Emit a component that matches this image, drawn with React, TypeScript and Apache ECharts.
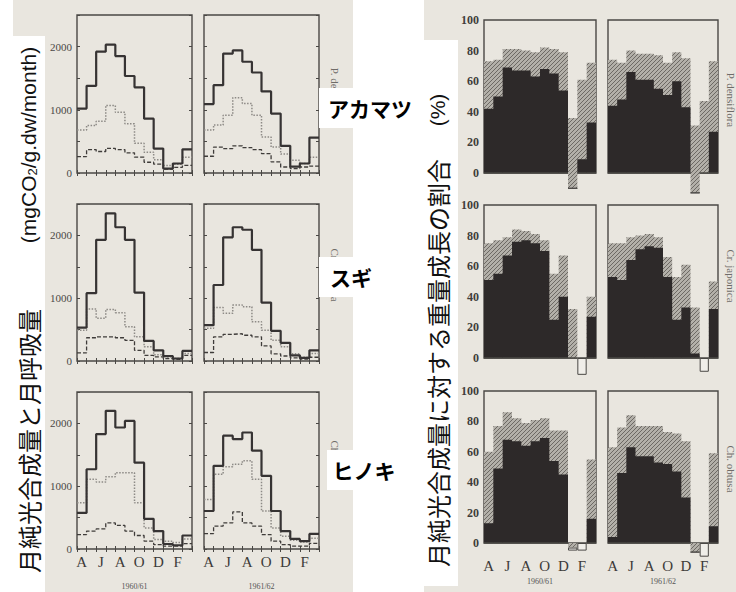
import React, { useEffect, useRef } from 'react';
import * as echarts from 'echarts';

// ---------- categories / labels ----------
const months = ['A', 'M', 'J', 'J', 'A', 'S', 'O', 'N', 'D', 'J', 'F', 'M'];
const seasons = ['1960/61', '1961/62'];
const speciesLatin = ['P. densiflora', 'Cr. japonica', 'Ch. obtusa'];
const speciesJa = ['アカマツ', 'スギ', 'ヒノキ'];

// ---------- left panel: monthly amounts (mgCO2/g.dw/month) ----------
const pdSolid6061 = [1020, 1380, 1920, 2030, 1850, 1535, 1355, 860, 386, 70, 150, 375];
const pdDotted6061 = [680, 750, 820, 1070, 960, 780, 470, 330, 210, 120, 140, 250];
const pdDashed6061 = [260, 370, 340, 390, 370, 320, 250, 170, 140, 60, 90, 120];
const pdSolid6162 = [1090, 1390, 1890, 1940, 1760, 1590, 1290, 940, 430, 100, 150, 560];
const pdDotted6162 = [680, 760, 915, 1190, 1100, 915, 570, 410, 300, 200, 150, 250];
const pdDashed6162 = [265, 410, 385, 430, 400, 370, 305, 175, 95, 70, 95, 110];

const cjSolid6061 = [530, 1080, 1930, 2350, 2130, 1930, 1090, 320, 170, 80, 40, 160];
const cjDotted6061 = [490, 830, 680, 820, 770, 545, 385, 225, 100, 65, 40, 120];
const cjDashed6061 = [130, 370, 385, 385, 370, 330, 170, 90, 65, 40, 25, 90];
const cjSolid6162 = [570, 1210, 1970, 2130, 2090, 1770, 930, 480, 290, 90, 50, 170];
const cjDotted6162 = [520, 850, 760, 890, 865, 625, 490, 330, 225, 115, 60, 120];
const cjDashed6162 = [135, 385, 425, 435, 410, 385, 240, 115, 80, 50, 30, 60];

const coSolid6061 = [575, 1270, 1830, 2200, 1935, 2040, 1375, 480, 285, 80, 60, 215];
const coDotted6061 = [735, 1110, 1065, 1150, 1215, 1215, 735, 335, 150, 125, 105, 160];
const coDashed6061 = [230, 285, 320, 415, 375, 285, 215, 125, 70, 45, 45, 85];
const coSolid6162 = [605, 1325, 1805, 1750, 1855, 1565, 1165, 605, 285, 160, 125, 240];
const coDotted6162 = [790, 1190, 1310, 1350, 1405, 1110, 605, 335, 205, 140, 110, 170];
const coDashed6162 = [245, 365, 415, 590, 415, 365, 230, 125, 70, 45, 45, 90];

// ---------- right panel: ratio of weight growth to net photosynthesis (%) ----------
const pdBlack6061 = [42, 50, 69, 67, 67, 63, 68, 65, 54, 0, 9, 33];
const pdTop6061 = [73, 74, 81, 81, 80, 79, 82, 81, 79, 36, 61, 72];
const pdNegHatch6061 = [0, 0, 0, 0, 0, 0, 0, 0, 0, -10, 0, 0];
const pdNegOpen6061 = [0, 0, 0, 0, 0, 0, 0, 0, 0, 0, 0, 0];
const pdBlack6162 = [44, 48, 66, 61, 61, 55, 51, 60, 43, 0, 0, 27];
const pdTop6162 = [74, 72, 80, 78, 78, 77, 72, 79, 75, 31, 47, 73];
const pdNegHatch6162 = [0, 0, 0, 0, 0, 0, 0, 0, 0, -13, 0, 0];
const pdNegOpen6162 = [0, 0, 0, 0, 0, 0, 0, 0, 0, 0, 0, 0];

const cjBlack6061 = [51, 55, 67, 76, 77, 75, 70, 25, 40, 0, 0, 27];
const cjTop6061 = [75, 77, 79, 84, 83, 81, 77, 55, 67, 32, 0, 40];
const cjNegHatch6061 = [0, 0, 0, 0, 0, 0, 0, 0, 0, 0, 0, 0];
const cjNegOpen6061 = [0, 0, 0, 0, 0, 0, 0, 0, 0, 0, -11, 0];
const cjBlack6162 = [53, 51, 64, 71, 73, 72, 53, 25, 33, 3, 0, 32];
const cjTop6162 = [75, 75, 79, 80, 81, 79, 66, 53, 61, 33, 0, 50];
const cjNegHatch6162 = [0, 0, 0, 0, 0, 0, 0, 0, 0, 0, 0, 0];
const cjNegOpen6162 = [0, 0, 0, 0, 0, 0, 0, 0, 0, 0, -9, 0];

const coBlack6061 = [13, 49, 68, 67, 64, 67, 69, 54, 45, 0, 0, 16];
const coTop6061 = [60, 77, 86, 82, 79, 81, 82, 74, 74, 0, 0, 55];
const coNegHatch6061 = [0, 0, 0, 0, 0, 0, 0, 0, 0, -3, 0, 0];
const coNegOpen6061 = [0, 0, 0, 0, 0, 0, 0, 0, 0, -2, -5, 0];
const coBlack6162 = [4, 46, 63, 57, 57, 53, 52, 47, 30, 0, 0, 11];
const coTop6162 = [63, 76, 84, 77, 77, 77, 73, 72, 67, 0, 0, 59];
const coNegHatch6162 = [0, 0, 0, 0, 0, 0, 0, 0, 0, -6, 0, 0];
const coNegOpen6162 = [0, 0, 0, 0, 0, 0, 0, 0, 0, 0, -9, 0];

const leftData = [
  [
    [pdSolid6061, pdDotted6061, pdDashed6061],
    [pdSolid6162, pdDotted6162, pdDashed6162],
  ],
  [
    [cjSolid6061, cjDotted6061, cjDashed6061],
    [cjSolid6162, cjDotted6162, cjDashed6162],
  ],
  [
    [coSolid6061, coDotted6061, coDashed6061],
    [coSolid6162, coDotted6162, coDashed6162],
  ],
];

const rightData = [
  [
    [pdBlack6061, pdTop6061, pdNegHatch6061, pdNegOpen6061],
    [pdBlack6162, pdTop6162, pdNegHatch6162, pdNegOpen6162],
  ],
  [
    [cjBlack6061, cjTop6061, cjNegHatch6061, cjNegOpen6061],
    [cjBlack6162, cjTop6162, cjNegHatch6162, cjNegOpen6162],
  ],
  [
    [coBlack6061, coTop6061, coNegHatch6061, coNegOpen6061],
    [coBlack6162, coTop6162, coNegHatch6162, coNegOpen6162],
  ],
];

// ---------- layout / style ----------
const L_COL_X = [77, 204];
const L_W = 115;
const L_ROW_TOP = [15, 204, 392];
const L_ROW_H = [158, 157, 157];
const R_COL_X = [484, 608];
const R_W = [112, 110];
const R_ROW_TOP = [20, 205, 391];
const R_ROW_H = [153, 153, 152];

const PAPER = '#e9e6df';
const FRAME = '#4a4845';
const BLACK = '#2d2929';
const SERIF = '"Liberation Serif", "DejaVu Serif", serif';
const JA = '"Noto Sans CJK JP", "Noto Sans", sans-serif';
const SANS = '"Liberation Sans", Arial, sans-serif';

function makeHatch() {
  const c = document.createElement('canvas');
  c.width = 4;
  c.height = 4;
  const ctx = c.getContext('2d')!;
  ctx.fillStyle = '#b3b0a9';
  ctx.fillRect(0, 0, 4, 4);
  ctx.strokeStyle = '#65615c';
  ctx.lineWidth = 0.9;
  ctx.beginPath();
  ctx.moveTo(0, 4);
  ctx.lineTo(4, 0);
  ctx.moveTo(-1, 1);
  ctx.lineTo(1, -1);
  ctx.moveTo(3, 5);
  ctx.lineTo(5, 3);
  ctx.stroke();
  return { image: c, repeat: 'repeat' };
}

// monthly values -> step points over bins [i, i+1]
function stepPoints(vals: number[]) {
  return vals.map((v, i) => [i, v]).concat([[vals.length, vals[vals.length - 1]]]);
}

function buildOption() {
  const hatch = makeHatch();
  const grid: any[] = [];
  const xAxis: any[] = [];
  const yAxis: any[] = [];
  const series: any[] = [];

  const lineStyles = [
    { color: '#363333', width: 2.2, type: 'solid' },
    { color: '#8d8a86', width: 1.5, type: [1.5, 1.5] },
    { color: '#3f3c3a', width: 1.3, type: [4, 2] },
  ];

  // left panel
  for (let r = 0; r < 3; r++) {
    for (let c = 0; c < 2; c++) {
      const gi = grid.length;
      const bottomRow = r === 2;
      grid.push({
        left: L_COL_X[c], top: L_ROW_TOP[r], width: L_W, height: L_ROW_H[r],
        show: true, borderColor: FRAME, borderWidth: 1.4, backgroundColor: 'transparent',
      });
      xAxis.push({
        type: 'category', gridIndex: gi, data: months, position: 'bottom', boundaryGap: true,
        axisLine: { show: false },
        axisTick: { show: true, inside: true, interval: 0, length: 3, lineStyle: { color: FRAME } },
        axisLabel: { show: bottomRow, interval: 1, margin: 5, fontFamily: SERIF, fontSize: 15, color: '#3d3b39' },
        name: bottomRow ? seasons[c] : '', nameLocation: 'middle', nameGap: 33,
        nameTextStyle: { fontFamily: SERIF, fontSize: 8, color: '#555' },
      });
      xAxis.push({
        type: 'category', gridIndex: gi, data: months, position: 'top', boundaryGap: true,
        axisLine: { show: false },
        axisTick: { show: true, inside: true, interval: 0, length: 3, lineStyle: { color: FRAME } },
        axisLabel: { show: false },
      });
      const xv = xAxis.length;
      xAxis.push({ type: 'value', gridIndex: gi, min: 0, max: 12, show: false });
      const yl = yAxis.length;
      yAxis.push({
        type: 'value', gridIndex: gi, min: 0, max: 2500, interval: 500, position: 'left',
        axisLine: { show: false }, splitLine: { show: false },
        axisTick: { show: true, inside: true, length: 3, lineStyle: { color: FRAME } },
        axisLabel: {
          show: c === 0, margin: 5, fontFamily: SERIF, fontSize: 11, color: '#4a4846',
          formatter: (v: number) => (v % 1000 === 0 ? String(v) : ''),
        },
      });
      yAxis.push({
        type: 'value', gridIndex: gi, min: 0, max: 2500, interval: 500, position: 'right',
        axisLine: { show: false }, splitLine: { show: false },
        axisTick: { show: true, inside: true, length: 3, lineStyle: { color: FRAME } },
        axisLabel: { show: false },
      });
      leftData[r][c].forEach((vals, k) => {
        series.push({
          type: 'line', xAxisIndex: xv, yAxisIndex: yl, step: 'end', symbol: 'none',
          lineStyle: lineStyles[k], z: 3 - k,
          data: stepPoints(vals),
        });
      });
    }
  }

  // right panel
  for (let r = 0; r < 3; r++) {
    for (let c = 0; c < 2; c++) {
      const gi = grid.length;
      const bottomRow = r === 2;
      grid.push({
        left: R_COL_X[c], top: R_ROW_TOP[r], width: R_W[c], height: R_ROW_H[r],
        show: true, borderColor: FRAME, borderWidth: 1.4, backgroundColor: 'transparent',
      });
      const xi = xAxis.length;
      xAxis.push({
        type: 'category', gridIndex: gi, data: months, position: 'bottom', boundaryGap: true,
        axisLine: { show: false }, axisTick: { show: false },
        axisLabel: { show: bottomRow, interval: 1, margin: 15, fontFamily: SERIF, fontSize: 15, color: '#3d3b39' },
        name: bottomRow ? seasons[c] : '', nameLocation: 'middle', nameGap: 34,
        nameTextStyle: { fontFamily: SERIF, fontSize: 8, color: '#555' },
      });
      const xv = xAxis.length;
      xAxis.push({ type: 'value', gridIndex: gi, min: 0, max: 12, show: false });
      const yi = yAxis.length;
      yAxis.push({
        type: 'value', gridIndex: gi, min: 0, max: 100, interval: 20,
        axisLine: { show: false }, axisTick: { show: false }, splitLine: { show: false },
        axisLabel: { show: c === 0, margin: 5, fontFamily: SERIF, fontSize: 12, fontWeight: 'bold', color: '#3f3d3b' },
      });
      const [black, top, negH, negO] = rightData[r][c];
      const area = {
        type: 'line', xAxisIndex: xv, yAxisIndex: yi, step: 'end', symbol: 'none',
        clip: false, silent: true, lineStyle: { opacity: 0 },
      };
      // hatched (total) area, black (growth) area drawn over it, hatched negative months
      series.push({ ...area, name: 'total', z: 2, data: stepPoints(top), areaStyle: { color: hatch, opacity: 1, origin: 0 } });
      series.push({ ...area, name: 'negative', z: 2, data: stepPoints(negH), areaStyle: { color: hatch, opacity: 1, origin: 0 } });
      series.push({ ...area, name: 'growth', z: 3, data: stepPoints(black), areaStyle: { color: BLACK, opacity: 1, origin: 0 } });
      // open (white) negative boxes stacked below hatched negatives
      const stack = 'n' + r + c;
      const bar = {
        type: 'bar', xAxisIndex: xi, yAxisIndex: yi, stack, barCategoryGap: '0%',
        clip: false, silent: true, z: 4,
      };
      series.push({ ...bar, name: 'negBase', data: negH, itemStyle: { color: 'rgba(0,0,0,0)' } });
      series.push({
        ...bar, name: 'negOpen', data: negO,
        itemStyle: { color: '#f0eee9', borderColor: '#4a4845', borderWidth: 1 },
      });
    }
  }

  const graphic: any[] = [
    { type: 'rect', z: -100, shape: { x: 13, y: 0, width: 340, height: 592 }, style: { fill: PAPER } },
    { type: 'rect', z: -100, shape: { x: 424, y: 0, width: 312, height: 592 }, style: { fill: PAPER } },
    { type: 'rect', z: 50, shape: { x: 0, y: 36, width: 45, height: 556 }, style: { fill: '#fff' } },
    { type: 'rect', z: 50, shape: { x: 353, y: 40, width: 105, height: 546 }, style: { fill: '#fff' } },
  ];

  const latinLeftY = [95, 275, 464];
  const latinRightY = [100, 276, 469];
  for (let r = 0; r < 3; r++) {
    graphic.push({
      type: 'text', z: 40, x: 335, y: latinLeftY[r], rotation: -Math.PI / 2,
      style: { text: speciesLatin[r], font: '11px ' + SERIF, fill: '#6f6c68', align: 'center', verticalAlign: 'middle' },
    });
    graphic.push({
      type: 'text', z: 40, x: 731, y: latinRightY[r], rotation: -Math.PI / 2,
      style: { text: speciesLatin[r], font: '11px ' + SERIF, fill: '#6f6c68', align: 'center', verticalAlign: 'middle' },
    });
  }
  const jaBox = [
    { x: 319, y: 88 },
    { x: 319, y: 257 },
    { x: 327, y: 450 },
  ];
  const jaText = [
    { x: 370, y: 108 },
    { x: 351, y: 277 },
    { x: 364, y: 470 },
  ];
  for (let r = 0; r < 3; r++) {
    graphic.push({ type: 'rect', z: 60, shape: { x: jaBox[r].x, y: jaBox[r].y, width: 105 - (jaBox[r].x - 319), height: 40 }, style: { fill: '#fff' } });
    graphic.push({
      type: 'text', z: 61, x: jaText[r].x, y: jaText[r].y,
      style: { text: speciesJa[r], font: 'bold 21px ' + JA, fill: '#000', align: 'center', verticalAlign: 'middle' },
    });
  }

  graphic.push({
    type: 'text', z: 61, x: 28, y: 441, rotation: Math.PI / 2,
    style: { text: '月純光合成量と月呼吸量', font: '24px ' + JA, fill: '#111', align: 'center', verticalAlign: 'middle' },
  });
  graphic.push({
    type: 'text', z: 61, x: 28, y: 145, rotation: Math.PI / 2,
    style: {
      text: '(mgCO{s|2}/g.dw/month)', font: '21px ' + SANS, fill: '#111', align: 'center', verticalAlign: 'middle',
      rich: { s: { fontSize: 13, fontFamily: SANS, fill: '#111', padding: [9, 0, 0, 0] } },
    },
  });
  graphic.push({
    type: 'text', z: 61, x: 437, y: 110, rotation: Math.PI / 2,
    style: { text: '(%)', font: '21px ' + SANS, fill: '#111', align: 'center', verticalAlign: 'middle' },
  });
  graphic.push({
    type: 'text', z: 61, x: 437, y: 363, rotation: Math.PI / 2,
    style: { text: '月純光合成量に対する重量成長の割合', font: '24px ' + JA, fill: '#111', align: 'center', verticalAlign: 'middle' },
  });

  return {
    animation: false,
    backgroundColor: '#ffffff',
    grid,
    xAxis,
    yAxis,
    series,
    graphic,
  };
}

export default function App() {
  const ref = useRef<HTMLDivElement>(null);
  useEffect(() => {
    if (!ref.current) return;
    const chart = echarts.init(ref.current, null, { renderer: 'svg' });
    chart.setOption(buildOption() as any);
    return () => chart.dispose();
  }, []);
  return (
    <div
      ref={ref}
      style={{ position: 'fixed', left: 0, top: 0, width: 736, height: 592, background: '#fff' }}
    />
  );
}
